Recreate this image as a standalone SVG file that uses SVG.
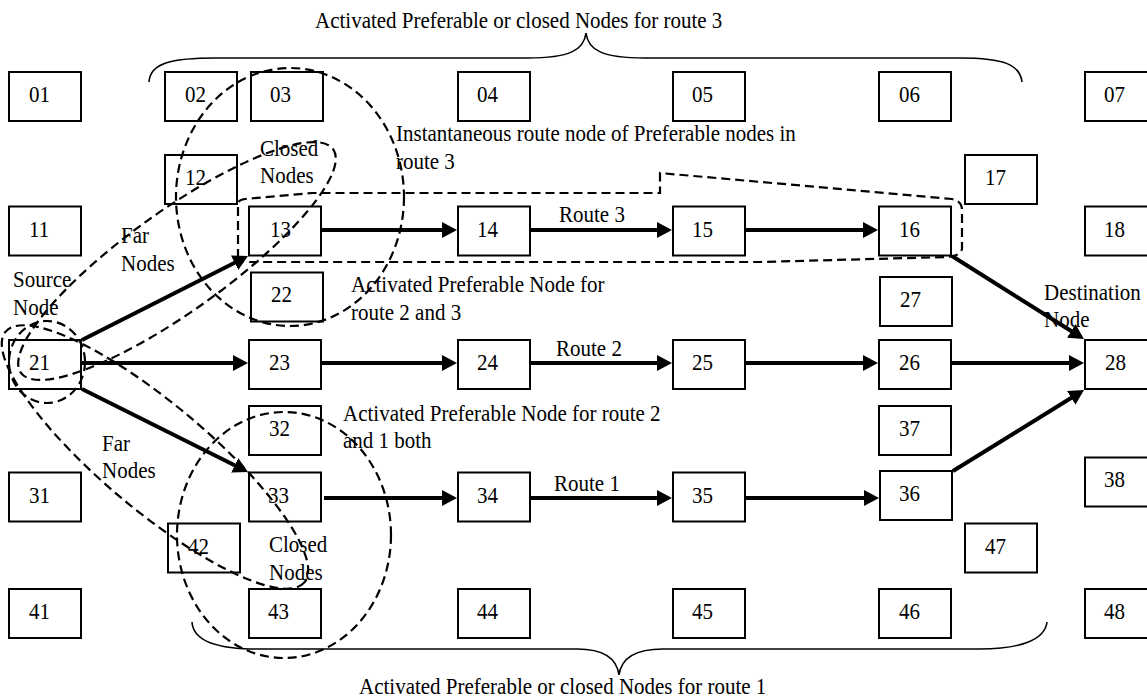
<svg xmlns="http://www.w3.org/2000/svg" width="1147" height="698" viewBox="0 0 1147 698">
<style>
.t{font-family:"Liberation Serif","Times New Roman",serif;font-size:21px;fill:#000}
.box{fill:#fff;stroke:#000;stroke-width:2}
.arr{stroke:#000;stroke-width:4;fill:none;marker-end:url(#ah)}
.dash{fill:none;stroke:#000;stroke-width:2.2;stroke-dasharray:9 5}
.brace{fill:none;stroke:#000;stroke-width:1.6}
</style>
<defs>
<marker id="ah" markerUnits="userSpaceOnUse" markerWidth="16" markerHeight="16" viewBox="0 0 16 16" refX="5" refY="8" orient="auto">
<path d="M0,0 L15,8 L0,16 z" fill="#000"/>
</marker>
</defs>
<rect width="1147" height="698" fill="#fff"/>

<g id="nodes">
<g id="n01"><rect class="box" x="9" y="72" width="72" height="49"/><text class="t" transform="matrix(1 0 0 1.1 29 102)">01</text></g>
<g id="n02"><rect class="box" x="165" y="72" width="72" height="49"/><text class="t" transform="matrix(1 0 0 1.1 185 102)">02</text></g>
<g id="n03"><rect class="box" x="251" y="72" width="72" height="49"/><text class="t" transform="matrix(1 0 0 1.1 270 102)">03</text></g>
<g id="n04"><rect class="box" x="458" y="72" width="72" height="49"/><text class="t" transform="matrix(1 0 0 1.1 477 102)">04</text></g>
<g id="n05"><rect class="box" x="673" y="72" width="72" height="49"/><text class="t" transform="matrix(1 0 0 1.1 692 102)">05</text></g>
<g id="n06"><rect class="box" x="879" y="72" width="72" height="49"/><text class="t" transform="matrix(1 0 0 1.1 899 102)">06</text></g>
<g id="n07"><rect class="box" x="1085" y="72" width="72" height="49"/><text class="t" transform="matrix(1 0 0 1.1 1104 102)">07</text></g>
<g id="n12"><rect class="box" x="165" y="155" width="72" height="49"/><text class="t" transform="matrix(1 0 0 1.1 185 185)">12</text></g>
<g id="n17"><rect class="box" x="965" y="155" width="72" height="49"/><text class="t" transform="matrix(1 0 0 1.1 985 185)">17</text></g>
<g id="n11"><rect class="box" x="9" y="206.5" width="72" height="49"/><text class="t" transform="matrix(1 0 0 1.1 29 236.5)">11</text></g>
<g id="n13"><rect class="box" x="249" y="206.5" width="72" height="49"/><text class="t" transform="matrix(1 0 0 1.1 270 236.5)">13</text></g>
<g id="n14"><rect class="box" x="458" y="206.5" width="72" height="49"/><text class="t" transform="matrix(1 0 0 1.1 477 236.5)">14</text></g>
<g id="n15"><rect class="box" x="673" y="206.5" width="72" height="49"/><text class="t" transform="matrix(1 0 0 1.1 692 236.5)">15</text></g>
<g id="n16"><rect class="box" x="879" y="206.5" width="72" height="49"/><text class="t" transform="matrix(1 0 0 1.1 899 236.5)">16</text></g>
<g id="n18"><rect class="box" x="1085" y="206.5" width="72" height="49"/><text class="t" transform="matrix(1 0 0 1.1 1104 236.5)">18</text></g>
<g id="n22"><rect class="box" x="251" y="272.5" width="72" height="49"/><text class="t" transform="matrix(1 0 0 1.1 271 302)">22</text></g>
<g id="n27"><rect class="box" x="880" y="277" width="72" height="49"/><text class="t" transform="matrix(1 0 0 1.1 900 307)">27</text></g>
<g id="n21"><rect class="box" x="9" y="340" width="72" height="49"/><text class="t" transform="matrix(1 0 0 1.1 29 370)">21</text></g>
<g id="n23"><rect class="box" x="249" y="340" width="72" height="49"/><text class="t" transform="matrix(1 0 0 1.1 269 370)">23</text></g>
<g id="n24"><rect class="box" x="458" y="340" width="72" height="49"/><text class="t" transform="matrix(1 0 0 1.1 477 370)">24</text></g>
<g id="n25"><rect class="box" x="673" y="340" width="72" height="49"/><text class="t" transform="matrix(1 0 0 1.1 692 370)">25</text></g>
<g id="n26"><rect class="box" x="879" y="340" width="72" height="49"/><text class="t" transform="matrix(1 0 0 1.1 899 370)">26</text></g>
<g id="n28"><rect class="box" x="1085" y="340" width="72" height="49"/><text class="t" transform="matrix(1 0 0 1.1 1105 370)">28</text></g>
<g id="n32"><rect class="box" x="249" y="406" width="72" height="49"/><text class="t" transform="matrix(1 0 0 1.1 269 436)">32</text></g>
<g id="n37"><rect class="box" x="879" y="406" width="72" height="49"/><text class="t" transform="matrix(1 0 0 1.1 899 436)">37</text></g>
<g id="n38"><rect class="box" x="1085" y="457.5" width="72" height="49"/><text class="t" transform="matrix(1 0 0 1.1 1104 487)">38</text></g>
<g id="n31"><rect class="box" x="9" y="472.5" width="72" height="49"/><text class="t" transform="matrix(1 0 0 1.1 29 502.5)">31</text></g>
<g id="n33"><rect class="box" x="249" y="472.5" width="72" height="49"/><text class="t" transform="matrix(1 0 0 1.1 268 502.5)">33</text></g>
<g id="n34"><rect class="box" x="458" y="472.5" width="72" height="49"/><text class="t" transform="matrix(1 0 0 1.1 477 502.5)">34</text></g>
<g id="n35"><rect class="box" x="673" y="472.5" width="72" height="49"/><text class="t" transform="matrix(1 0 0 1.1 692 502.5)">35</text></g>
<g id="n36"><rect class="box" x="880" y="471" width="72" height="49"/><text class="t" transform="matrix(1 0 0 1.1 899 501)">36</text></g>
<g id="n42"><rect class="box" x="168" y="523.5" width="72" height="49"/><text class="t" transform="matrix(1 0 0 1.1 188 553.5)">42</text></g>
<g id="n47"><rect class="box" x="965" y="523.5" width="72" height="49"/><text class="t" transform="matrix(1 0 0 1.1 985 553.5)">47</text></g>
<g id="n41"><rect class="box" x="9" y="589" width="72" height="49"/><text class="t" transform="matrix(1 0 0 1.1 29 618.5)">41</text></g>
<g id="n43"><rect class="box" x="249" y="589" width="72" height="49"/><text class="t" transform="matrix(1 0 0 1.1 268 618.5)">43</text></g>
<g id="n44"><rect class="box" x="458" y="589" width="72" height="49"/><text class="t" transform="matrix(1 0 0 1.1 477 618.5)">44</text></g>
<g id="n45"><rect class="box" x="673" y="589" width="72" height="49"/><text class="t" transform="matrix(1 0 0 1.1 692 618.5)">45</text></g>
<g id="n46"><rect class="box" x="879" y="589" width="72" height="49"/><text class="t" transform="matrix(1 0 0 1.1 899 618.5)">46</text></g>
<g id="n48"><rect class="box" x="1085" y="589" width="72" height="49"/><text class="t" transform="matrix(1 0 0 1.1 1104 618.5)">48</text></g>
</g>

<g id="connectors">
<line class="arr" x1="82" y1="340" x2="239.1" y2="260.5"/>
<line class="arr" x1="82" y1="363" x2="238" y2="363"/>
<line class="arr" x1="82" y1="389" x2="239.1" y2="467.5"/>
<line class="arr" x1="322" y1="230" x2="447" y2="230"/>
<line class="arr" x1="530" y1="230" x2="662" y2="230"/>
<line class="arr" x1="745" y1="230" x2="868" y2="230"/>
<line class="arr" x1="952" y1="256" x2="1075.5" y2="333.7"/>
<line class="arr" x1="322" y1="363" x2="447" y2="363"/>
<line class="arr" x1="530" y1="363" x2="662" y2="363"/>
<line class="arr" x1="745" y1="363" x2="868" y2="363"/>
<line class="arr" x1="952" y1="363" x2="1074" y2="363"/>
<line class="arr" x1="324" y1="498" x2="447" y2="498"/>
<line class="arr" x1="530" y1="498" x2="662" y2="498"/>
<line class="arr" x1="745" y1="498" x2="869" y2="498"/>
<line class="arr" x1="953" y1="471" x2="1075.5" y2="395.3"/>
</g>

<g id="regions">
<ellipse class="dash" cx="290" cy="197" rx="114" ry="129"/>
<ellipse class="dash" cx="0" cy="0" rx="192" ry="50" transform="translate(177 261) rotate(-35.6)"/>
<ellipse class="dash" cx="47" cy="362" rx="38" ry="41"/>
<ellipse class="dash" cx="0" cy="0" rx="195" ry="53" transform="translate(155 457) rotate(40)"/>
<ellipse class="dash" cx="284" cy="535" rx="107" ry="123"/>
<path class="dash" d="M238,258 L238,204 Q238,200 245,199 L312,193 L660,193 L660,173 L952,199 Q962,201 962,210 L962,249 Q960,256 948,257 L760,262 L246,262 Q238,261 238,258 Z"/>
</g>

<g id="braces">
<path class="brace" d="M149,82 C150,62 175,58 215,58 L527,58 C570,58 584,50 586,33 C588,50 602,58 645,58 L960,58 C1005,58 1020,65 1022,82"/>
<path class="brace" d="M192,622 C193,640 215,648 250,649 L577,649 C605,649 617,660 619,675 C621,660 633,649 663,649 L980,649 C1020,649 1045,640 1047,622"/>
</g>

<g id="labels">
<text class="t" transform="matrix(1 0 0 1.1 315 27.5)">Activated Preferable or closed Nodes for route 3</text>
<text class="t" transform="matrix(1 0 0 1.1 396 141)">Instantaneous route node of Preferable nodes in<tspan x="0" y="25.5">route 3</tspan></text>
<text class="t" transform="matrix(1 0 0 1.1 260 155.5)">Closed<tspan x="0" y="25">Nodes</tspan></text>
<text class="t" transform="matrix(1 0 0 1.1 121 243)">Far<tspan x="0" y="25.5">Nodes</tspan></text>
<text class="t" transform="matrix(1 0 0 1.1 13 286.5)">Source<tspan x="0" y="26">Node</tspan></text>
<text class="t" transform="matrix(1 0 0 1.1 351 292)">Activated Preferable Node for<tspan x="0" y="25.5">route 2 and 3</tspan></text>
<text class="t" transform="matrix(1 0 0 1.1 343 421)">Activated Preferable Node for route 2<tspan x="0" y="25">and 1 both</tspan></text>
<text class="t" transform="matrix(1 0 0 1.1 102 451)">Far<tspan x="0" y="24.5">Nodes</tspan></text>
<text class="t" transform="matrix(1 0 0 1.1 269 552)">Closed<tspan x="0" y="25.5">Nodes</tspan></text>
<text class="t" transform="matrix(1 0 0 1.1 559 222)">Route 3</text>
<text class="t" transform="matrix(1 0 0 1.1 556 356)">Route 2</text>
<text class="t" transform="matrix(1 0 0 1.1 554 491)">Route 1</text>
<text class="t" transform="matrix(1 0 0 1.1 1044 300)">Destination<tspan x="0" y="24.5">Node</tspan></text>
<text class="t" transform="matrix(1 0 0 1.1 359 694)">Activated Preferable or closed Nodes for route 1</text>
</g>
</svg>
